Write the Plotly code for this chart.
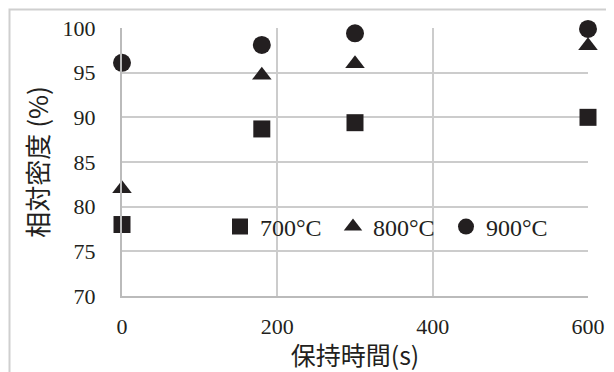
import plotly.graph_objects as go

times = [0, 180, 300, 600]
d700 = [78.0, 88.7, 89.4, 90.0]
d800 = [82.0, 94.7, 96.0, 98.0]
d900 = [96.1, 98.1, 99.4, 99.9]
names = ["700°C", "800°C", "900°C"]
symbols = ["square", "triangle-up", "circle"]

OFF = 8  # page body margin
W, H = 614 - OFF, 372 - OFF
L, R, T, B = 122 - OFF, 26, 28 - OFF, 76
pw, ph = W - L - R, H - T - B

SERIF = "Liberation Serif"
CJK = "Noto Sans CJK JP"

fig = go.Figure()
for ys, nm, sym in zip([d700, d800, d900], names, symbols):
    fig.add_trace(go.Scatter(
        x=times, y=ys, mode="markers", name=nm, cliponaxis=False,
        marker=dict(symbol=sym, size=17 if sym != "circle" else 18, color="#231f20"),
    ))

def px2paper(x, y):
    return (x - OFF - L) / pw, (H - B - (y - OFF)) / ph

x0, y0 = px2paper(9.5, 9.5)
x1, y1 = px2paper(640, 400)
lx, ly = px2paper(220, 227)

fig.update_layout(
    width=W, height=H,
    margin=dict(l=L, r=R, t=T, b=B, autoexpand=False),
    paper_bgcolor="white", plot_bgcolor="white",
    font=dict(family=SERIF, size=22, color="#231f20"),
    showlegend=True,
    legend=dict(
        orientation="h", x=lx, y=ly, xanchor="left", yanchor="middle",
        bgcolor="rgba(0,0,0,0)", font=dict(family=SERIF, size=24),
        itemsizing="trace", itemwidth=30, traceorder="normal",
        entrywidth=68,
    ),
    xaxis=dict(
        range=[0, 600], tickvals=[0, 200, 400, 600], showgrid=True,
        gridcolor="#cccccc", gridwidth=2, zeroline=False,
        showline=True, linecolor="#bbbbbb", linewidth=2,
        ticks="outside", ticklen=10, tickcolor="rgba(0,0,0,0)",
        tickfont=dict(family=SERIF, size=22),
        automargin=False,
        title=dict(text="保持時間(s)", standoff=0,
                   font=dict(family=CJK, size=25)),
        fixedrange=True,
    ),
    yaxis=dict(
        range=[70, 100], tickvals=[70, 75, 80, 85, 90, 95, 100], showgrid=True,
        gridcolor="#cccccc", gridwidth=2, zeroline=False,
        showline=True, linecolor="#bbbbbb", linewidth=2,
        ticks="outside", ticklen=20, tickcolor="rgba(0,0,0,0)",
        tickfont=dict(family=SERIF, size=22),
        automargin=False,
        title=dict(text="相対密度 (%)", standoff=6,
                   font=dict(family=CJK, size=26)),
        fixedrange=True,
    ),
    shapes=[dict(type="rect", xref="paper", yref="paper",
                 x0=x0, y0=y1, x1=x1, y1=y0,
                 line=dict(color="#cfcfcf", width=2), fillcolor="rgba(0,0,0,0)",
                 layer="above")],
)

fig.write_html("out.html")
